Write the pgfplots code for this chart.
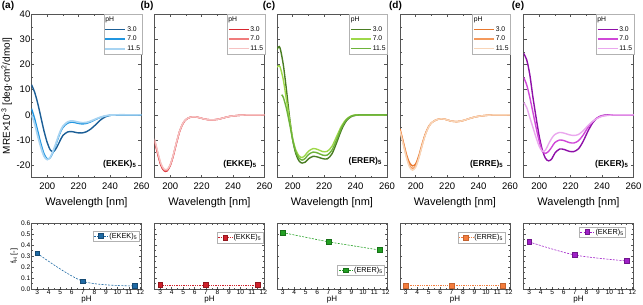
\documentclass[border=0pt]{standalone}
\usepackage{fontspec}
\setmainfont{Liberation Sans}
\usepackage{pgfplots}
\pgfplotsset{compat=1.18}

\definecolor{ekekA}{HTML}{1B5E96}
\definecolor{ekekB}{HTML}{2196E0}
\definecolor{ekekC}{HTML}{A8D4F2}
\definecolor{ekkeA}{HTML}{D7262E}
\definecolor{ekkeB}{HTML}{F07C7C}
\definecolor{ekkeC}{HTML}{F6C2C2}
\definecolor{ererA}{HTML}{4A7D23}
\definecolor{ererB}{HTML}{9ED84A}
\definecolor{ererC}{HTML}{6DB33A}
\definecolor{erreA}{HTML}{E8782E}
\definecolor{erreB}{HTML}{F4995C}
\definecolor{erreC}{HTML}{F8D5B8}
\definecolor{ekerA}{HTML}{8E0FA8}
\definecolor{ekerB}{HTML}{D048D8}
\definecolor{ekerC}{HTML}{EAA8EE}
\definecolor{mEKEK}{HTML}{1F6AA5}
\definecolor{mEKKE}{HTML}{D0202A}
\definecolor{mERER}{HTML}{22A022}
\definecolor{mERRE}{HTML}{F47C3C}
\definecolor{mEKER}{HTML}{A020C8}
\definecolor{axgray}{HTML}{555555}

\pgfplotsset{
  common/.style={
    scale only axis, width=110pt,
    /pgf/number format/assume math mode=true,
    axis line style={axgray, line width=0.7pt},
    major tick style={axgray, line width=0.6pt},
    minor tick style={axgray, line width=0.5pt},
  },
  topax/.style={
    common, height=163.4pt,
    xmin=190, xmax=260, ymin=-25, ymax=40,
    xtick={200,220,240,260}, minor x tick num=1,
    ytick={-20,-10,0,10,20,30,40}, minor y tick num=1,
    major tick length=3pt, minor tick length=1.8pt,
    tick label style={font=\fontsize{9.5}{10}\selectfont},
    xticklabel style={yshift=-1.5pt},
    yticklabel style={inner sep=1pt},
    xlabel={Wavelength [nm]},
    xlabel style={font=\fontsize{11}{12}\selectfont, yshift=-1pt},
    ylabel style={font=\fontsize{10}{11}\selectfont},
    every axis plot/.append style={line width=1.4pt, smooth},
    legend style={at={(1.005,1)}, anchor=north east, draw=black!30, fill=white,
      font=\fontsize{6.8}{7}\selectfont, inner sep=0.8pt, row sep=1.2pt,
      nodes={inner sep=1pt, text height=5pt, text depth=1.5pt}, cells={anchor=west}},
    legend image code/.code={\draw[##1] (0pt,0pt) -- (20pt,0pt);},
  },
  botax/.style={
    common, height=65.7pt,
    xmin=2.5, xmax=12.1, ymin=0, ymax=0.6,
    xtick={3,4,5,6,7,8,9,10,11,12}, minor x tick num=1,
    ytick={0,0.1,0.2,0.3,0.4,0.5,0.6}, minor y tick num=1,
    major tick length=2.2pt, minor tick length=1.3pt,
    tick label style={font=\fontsize{6.6}{7}\selectfont},
    xticklabel style={inner sep=1pt},
    yticklabel style={inner sep=1pt, /pgf/number format/.cd, fixed, fixed zerofill, precision=1},
    xlabel={pH},
    xlabel style={font=\fontsize{8}{8}\selectfont, at={(axis description cs:0.5,0)}, anchor=north, inner sep=0pt, yshift=-7pt},
    ylabel style={font=\fontsize{7.5}{8}\selectfont, yshift=-1pt},
    legend style={draw=black!30, fill=white, font=\fontsize{7.3}{7.5}\selectfont, inner sep=1pt, nodes={inner sep=1pt}},
    legend image code/.code={\draw[mark repeat=2, mark phase=2, ##1] plot coordinates {(0pt,0pt) (7pt,0pt) (14pt,0pt)};},
    every axis plot/.append style={line width=0.6pt, dash pattern=on 2pt off 1.3pt, mark=square*, mark size=2.4pt},
  },
}

\begin{document}
\begin{tikzpicture}
% ---------------- (a) EKEK ----------------
\begin{axis}[topax, at={(31.5pt,127.3pt)}, anchor=south west,
  ylabel={MRE\texttimes10\textsuperscript{-3} [deg\textperiodcentered cm\textsuperscript{2}/dmol]}]
\addlegendimage{empty legend}
\addplot[color=ekekA] coordinates {(190,12) (192,9) (194,4.5) (196,-1) (198,-6.5) (200,-11) (202,-14) (204,-14.6) (206,-13) (208,-10.5) (210,-8.2) (213,-6.8) (216,-6.7) (219,-7.1) (222,-7.2) (225,-6.7) (228,-5.5) (231,-3.8) (234,-2) (237,-0.8) (240,-0.2) (245,0) (250,0) (255,0) (260,0)};
\addplot[color=ekekB] coordinates {(190,2.5) (192,-1.5) (194,-6.5) (196,-11.5) (198,-15.5) (200,-17.5) (202,-17) (204,-14.5) (206,-11) (208,-7.5) (210,-5) (213,-3.3) (216,-2.9) (219,-3.3) (222,-3.6) (225,-3.4) (228,-2.7) (231,-1.8) (234,-1) (237,-0.5) (240,-0.2) (245,0) (250,0) (255,0) (260,0)};
\addplot[color=ekekC, line width=1.7pt] coordinates {(190,0) (192,-3.5) (194,-8.5) (196,-13) (198,-16.5) (200,-17.8) (202,-16.8) (204,-14) (206,-10.5) (208,-7) (210,-4.5) (213,-2.8) (216,-2.4) (219,-2.8) (222,-3.1) (225,-3) (228,-2.4) (231,-1.6) (234,-0.9) (237,-0.4) (240,-0.1) (245,0) (250,0) (255,0) (260,0)};
\legend{\makebox[0pt][l]{\hspace*{-22pt}pH},3.0,7.0,11.5}
\node[anchor=east, font=\bfseries\fontsize{8.5}{9}\selectfont] at (rel axis cs:0.985,0.085) {(EKEK)\textsubscript{5}};
\end{axis}
% ---------------- (b) EKKE ----------------
\begin{axis}[topax, at={(154.5pt,127.3pt)}, anchor=south west, yticklabels={}]
\addlegendimage{empty legend}
\addplot[color=ekkeA] coordinates {(190,-10.5) (192,-15.5) (194,-20) (196,-22.2) (198,-22.3) (200,-20.2) (202,-16.2) (204,-11.2) (206,-6.6) (208,-3.6) (210,-1.9) (213,-0.9) (216,-0.8) (219,-1.2) (222,-1.7) (226,-2) (230,-1.8) (234,-1.2) (238,-0.6) (242,-0.3) (246,-0.1) (250,0) (255,0) (260,0)};
\addplot[color=ekkeB] coordinates {(190,-10) (192,-15) (194,-19.6) (196,-21.9) (198,-22) (200,-20) (202,-16) (204,-11) (206,-6.5) (208,-3.5) (210,-1.8) (213,-0.9) (216,-0.8) (219,-1.2) (222,-1.7) (226,-2) (230,-1.8) (234,-1.2) (238,-0.6) (242,-0.3) (246,-0.1) (250,0) (255,0) (260,0)};
\addplot[color=ekkeC] coordinates {(190,-9.5) (192,-14.5) (194,-19.2) (196,-21.5) (198,-21.7) (200,-19.8) (202,-15.8) (204,-10.8) (206,-6.4) (208,-3.4) (210,-1.8) (213,-0.9) (216,-0.8) (219,-1.2) (222,-1.7) (226,-2) (230,-1.8) (234,-1.2) (238,-0.6) (242,-0.3) (246,-0.1) (250,0) (255,0) (260,0)};
\legend{\makebox[0pt][l]{\hspace*{-22pt}pH},3.0,7.0,11.5}
\node[anchor=east, font=\bfseries\fontsize{8.5}{9}\selectfont] at (rel axis cs:0.96,0.085) {(EKKE)\textsubscript{5}};
\end{axis}
% ---------------- (c) ERER ----------------
\begin{axis}[topax, at={(277pt,127.3pt)}, anchor=south west, yticklabels={}]
\addlegendimage{empty legend}
\addplot[color=ererA] coordinates {(190,26) (191,27) (192,26.5) (194,20) (196,10) (198,-1) (200,-10) (202,-15.5) (204,-18.3) (206,-19.2) (208,-18.8) (210,-17.5) (213,-16.5) (216,-16.8) (219,-17.4) (222,-17.5) (225,-15.5) (228,-11) (231,-6) (234,-2.5) (237,-0.8) (240,-0.2) (244,0) (250,0) (255,0) (260,0)};
\addplot[color=ererB] coordinates {(190,19) (191,19.5) (192,19) (194,14) (196,6) (198,-2) (200,-9.5) (202,-14) (204,-16.3) (206,-17) (208,-16) (210,-14.5) (213,-13.4) (216,-13.8) (219,-14.6) (222,-14.5) (225,-12.5) (228,-8.5) (231,-4.5) (234,-1.8) (237,-0.5) (240,0) (244,0) (250,0) (255,0) (260,0)};
\addplot[color=ererC] coordinates {(193,8) (194,7) (196,2.5) (198,-3.5) (200,-10) (202,-14.8) (204,-17.2) (206,-18) (208,-17.3) (210,-15.8) (213,-14.8) (216,-15.2) (219,-16) (222,-16) (225,-14) (228,-9.8) (231,-5.2) (234,-2.1) (237,-0.6) (240,-0.1) (244,0) (250,0) (255,0) (260,0)};
\legend{\makebox[0pt][l]{\hspace*{-22pt}pH},3.0,7.0,11.5}
\node[anchor=east, font=\bfseries\fontsize{8.5}{9}\selectfont] at (rel axis cs:0.985,0.1) {(ERER)\textsubscript{5}};
\end{axis}
% ---------------- (d) ERRE ----------------
\begin{axis}[topax, at={(400pt,127.3pt)}, anchor=south west, yticklabels={}]
\addlegendimage{empty legend}
\addplot[color=erreA] coordinates {(190,-5.5) (192,-10.5) (194,-15.5) (196,-19) (198,-20.3) (200,-19.5) (202,-16.2) (204,-11.8) (206,-7.8) (208,-4.9) (210,-3.2) (213,-2) (216,-1.6) (219,-1.8) (222,-2.4) (226,-2.7) (230,-2.3) (234,-1.5) (238,-0.8) (242,-0.4) (246,-0.15) (250,0) (255,0) (260,0)};
\addplot[color=erreB] coordinates {(190,-6) (192,-11) (194,-16.2) (196,-20) (198,-21.3) (200,-20.3) (202,-16.8) (204,-12.2) (206,-8) (208,-5) (210,-3.2) (213,-2) (216,-1.6) (219,-1.8) (222,-2.4) (226,-2.7) (230,-2.3) (234,-1.5) (238,-0.8) (242,-0.4) (246,-0.15) (250,0) (255,0) (260,0)};
\addplot[color=erreC] coordinates {(190,-6.5) (192,-11.6) (194,-16.8) (196,-20.7) (198,-22) (200,-20.8) (202,-17.2) (204,-12.5) (206,-8.2) (208,-5.1) (210,-3.2) (213,-2) (216,-1.6) (219,-1.8) (222,-2.4) (226,-2.7) (230,-2.3) (234,-1.5) (238,-0.8) (242,-0.4) (246,-0.15) (250,0) (255,0) (260,0)};
\legend{\makebox[0pt][l]{\hspace*{-22pt}pH},3.0,7.0,11.5}
\node[anchor=east, font=\bfseries\fontsize{8.5}{9}\selectfont] at (rel axis cs:0.97,0.085) {(ERRE)\textsubscript{5}};
\end{axis}
% ---------------- (e) EKER ----------------
\begin{axis}[topax, at={(523.5pt,127.3pt)}, anchor=south west, yticklabels={}]
\addlegendimage{empty legend}
\addplot[color=ekerA] coordinates {(190,24.5) (192,22) (194,16) (196,7) (198,-1) (200,-8.5) (202,-14) (204,-17.3) (206,-18.3) (208,-17.5) (210,-15.2) (213,-13.6) (216,-13.8) (219,-14.5) (222,-14.6) (225,-13.5) (228,-10.5) (231,-6.5) (234,-3.2) (237,-1.2) (240,-0.3) (244,0) (250,0) (255,0) (260,0)};
\addplot[color=ekerB] coordinates {(190,15) (192,12) (194,7) (196,1) (198,-5) (200,-10.5) (202,-14.5) (204,-15.3) (206,-14.5) (208,-12.8) (210,-11) (213,-10) (216,-10.3) (219,-11) (222,-11.2) (225,-10.3) (228,-8) (231,-5) (234,-2.7) (237,-1.2) (240,-0.4) (244,-0.1) (248,0) (254,0) (260,0)};
\addplot[color=ekerC] coordinates {(190,5) (192,3) (194,-1) (196,-5) (198,-9) (200,-12.5) (202,-14.5) (204,-14) (206,-11.5) (208,-9.3) (210,-7.8) (213,-7) (216,-7.3) (219,-7.9) (222,-8.2) (225,-7.8) (228,-6.3) (231,-4.3) (234,-2.6) (237,-1.4) (240,-0.6) (244,-0.2) (248,0) (254,0) (260,0)};
\legend{\makebox[0pt][l]{\hspace*{-22pt}pH},3.0,7.0,11.5}
\node[anchor=east, font=\bfseries\fontsize{8.5}{9}\selectfont] at (rel axis cs:0.985,0.085) {(EKER)\textsubscript{5}};
\end{axis}

% ================ bottom row ================
\begin{axis}[botax, at={(31.5pt,16pt)}, anchor=south west, ylabel={f\textsubscript{H} [-]},
  legend style={at={(0.98,0.89)}, anchor=north east}]
\addplot[mEKEK, smooth, mark options={solid, fill=mEKEK, draw=mEKEK!70!black}] coordinates {(3,0.326) (7,0.07) (11.5,0.028)};
\addlegendentry{(EKEK)\textsubscript{5}}
\end{axis}
\begin{axis}[botax, at={(154.5pt,16pt)}, anchor=south west, yticklabels={},
  legend style={at={(0.99,0.87)}, anchor=north east}]
\addplot[mEKKE, dash pattern=on 1.3pt off 1pt, mark options={solid, fill=mEKKE, draw=mEKKE!70!black}] coordinates {(3,0.035) (7,0.035) (11.5,0.035)};
\addlegendentry{(EKKE)\textsubscript{5}}
\end{axis}
\begin{axis}[botax, at={(277pt,16pt)}, anchor=south west, yticklabels={},
  legend style={at={(0.98,0.2)}, anchor=south east}]
\addplot[mERER, mark options={solid, fill=mERER, draw=mERER!70!black}] coordinates {(3,0.515) (7,0.43) (11.5,0.355)};
\addlegendentry{(ERER)\textsubscript{5}}
\end{axis}
\begin{axis}[botax, at={(400pt,16pt)}, anchor=south west, yticklabels={},
  legend style={at={(0.955,0.865)}, anchor=north east}]
\addplot[mERRE, dash pattern=on 1.3pt off 1pt, mark options={solid, fill=mERRE, draw=mERRE!80!black}] coordinates {(3,0.03) (7,0.03) (11.5,0.03)};
\addlegendentry{(ERRE)\textsubscript{5}}
\end{axis}
\begin{axis}[botax, at={(523.5pt,16pt)}, anchor=south west, yticklabels={},
  legend style={at={(0.93,0.95)}, anchor=north east}]
\addplot[mEKER, smooth, mark options={solid, fill=mEKER, draw=mEKER!70!black}] coordinates {(3,0.43) (7,0.31) (11.5,0.256)};
\addlegendentry{(EKER)\textsubscript{5}}
\end{axis}

% panel letters
\node[font=\bfseries\fontsize{10}{10}\selectfont] at (8pt,299pt) {(a)};
\node[font=\bfseries\fontsize{10}{10}\selectfont] at (147pt,299pt) {(b)};
\node[font=\bfseries\fontsize{10}{10}\selectfont] at (269pt,299pt) {(c)};
\node[font=\bfseries\fontsize{10}{10}\selectfont] at (395.5pt,299pt) {(d)};
\node[font=\bfseries\fontsize{10}{10}\selectfont] at (518pt,299pt) {(e)};

\pgfresetboundingbox
\path[use as bounding box] (0pt,0pt) rectangle (643pt,305pt);
\end{tikzpicture}
\end{document}
